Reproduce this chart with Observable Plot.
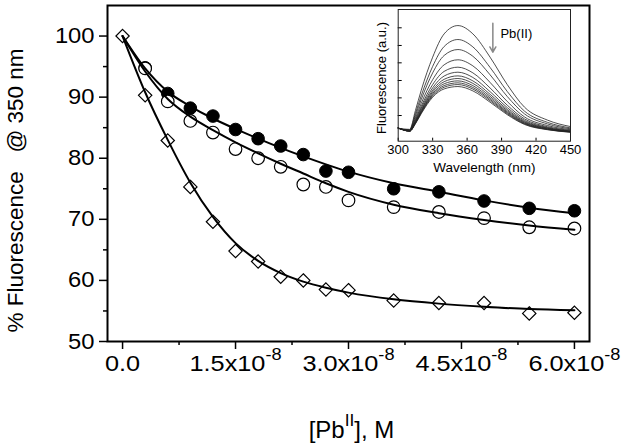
<!DOCTYPE html>
<html><head><meta charset="utf-8">
<script src="https://cdn.jsdelivr.net/npm/d3@7"></script>
<script src="https://cdn.jsdelivr.net/npm/@observablehq/plot@0.6"></script>
<style>
html,body{margin:0;padding:0;background:#fff;}
#wrap{position:relative;width:624px;height:447px;overflow:hidden;}
#inset{position:absolute;left:350px;top:0px;}
</style></head><body><div id="wrap"><div id="main"></div><div id="inset"></div></div>
<script>
// ---- main chart data ----
const concAll = [0, 0.3e-8, 0.6e-8, 0.9e-8, 1.2e-8, 1.5e-8, 1.8e-8, 2.1e-8, 2.4e-8, 2.7e-8, 3.0e-8, 3.6e-8, 4.2e-8, 4.8e-8, 5.4e-8, 6.0e-8];
const concCircles = [0.3e-8, 0.6e-8, 0.9e-8, 1.2e-8, 1.5e-8, 1.8e-8, 2.1e-8, 2.4e-8, 2.7e-8, 3.0e-8, 3.6e-8, 4.2e-8, 4.8e-8, 5.4e-8, 6.0e-8];
const filledPct = [94.8, 90.6, 88.2, 86.9, 84.7, 83.2, 82.0, 80.6, 77.9, 77.7, 75.0, 74.5, 73.0, 71.8, 71.4];
const openPct = [94.7, 89.3, 86.1, 84.2, 81.5, 80.0, 78.6, 75.7, 75.3, 73.1, 72.0, 71.2, 70.2, 68.7, 68.5];
const diamondPct = [100, 90.3, 82.9, 75.3, 69.6, 64.8, 63.1, 60.6, 60.0, 58.5, 58.4, 56.7, 56.3, 56.3, 54.6, 54.7];
const fitFilled = [100, 94.7, 90.9, 88.5, 86.5, 84.8, 83.2, 81.7, 80.3, 79.0, 77.8, 75.9, 74.5, 73.1, 71.9, 71.0];
const fitOpen = [100, 94.2, 89.7, 86.8, 84.6, 82.6, 80.8, 79.1, 77.5, 75.9, 74.5, 72.4, 71.0, 69.9, 69.0, 68.3];
const fitDiamond = [100, 90.8, 83.0, 76.0, 70.4, 66.1, 63.2, 61.2, 59.8, 58.8, 58.0, 56.9, 56.2, 55.7, 55.3, 55.1];
const xTicks = [0, 1.5e-8, 3.0e-8, 4.5e-8, 6.0e-8];
const xTickLabels = ["0.0", "1.5x10^{-8}", "3.0x10^{-8}", "4.5x10^{-8}", "6.0x10^{-8}"];
const xMinor = [0.75e-8, 2.25e-8, 3.75e-8, 5.25e-8];
const yTicks = [50, 60, 70, 80, 90, 100];
const yMinor = [55, 65, 75, 85, 95];
const xTitle = "[Pb^{II}], M";
const yTitle = "% Fluorescence\u00a0\u00a0 @ 350 nm";

// ---- inset data ----
const wavelengths = [300, 310, 315, 320, 330, 340, 352, 365, 380, 395, 410, 430, 450];
const spec01 = [9.6, 9.0, 23.3, 38.5, 63.8, 81.5, 87.8, 81.5, 63.8, 42.9, 25.8, 16.0, 11.1];
const spec02 = [9.7, 8.7, 21.0, 34.4, 56.8, 71.9, 77.2, 71.6, 56.0, 37.7, 22.8, 14.3, 10.1];
const spec03 = [9.8, 8.4, 19.3, 31.5, 51.9, 65.1, 69.6, 64.5, 50.4, 33.9, 20.7, 13.1, 9.4];
const spec04 = [9.9, 8.2, 17.6, 28.6, 46.7, 58.0, 61.8, 57.2, 44.6, 30.1, 18.4, 11.9, 8.7];
const spec05 = [9.9, 8.0, 16.4, 26.4, 43.0, 53.0, 56.2, 51.9, 40.4, 27.3, 16.9, 11.0, 8.2];
const spec06 = [10.0, 7.9, 15.6, 25.0, 40.5, 49.5, 52.4, 48.4, 37.6, 25.5, 15.8, 10.4, 7.8];
const spec07 = [10.0, 7.8, 15.0, 23.9, 38.7, 47.0, 49.6, 45.8, 35.6, 24.1, 15.0, 10.0, 7.6];
const spec08 = [10.0, 7.8, 14.5, 23.1, 37.4, 45.2, 47.6, 43.9, 34.1, 23.1, 14.4, 9.7, 7.4];
const spec09 = [10.0, 7.7, 14.1, 22.4, 36.2, 43.6, 45.8, 42.2, 32.8, 22.2, 13.9, 9.4, 7.2];
const spec10 = [10.1, 7.7, 13.8, 21.9, 35.2, 42.2, 44.3, 40.8, 31.7, 21.5, 13.5, 9.1, 7.1];
const spec11 = [10.1, 7.6, 13.5, 21.4, 34.4, 41.0, 43.0, 39.6, 30.7, 20.8, 13.1, 8.9, 6.9];
const spec12 = [10.1, 7.6, 13.2, 20.8, 33.4, 39.7, 41.5, 38.2, 29.6, 20.1, 12.7, 8.7, 6.8];
const insetXTicks = [300, 330, 360, 390, 420, 450];
const insetYTicks = [19.5, 32.9, 46.1, 59.5, 72.7, 86.1];
const pbLabel = [{wl: 389, v: 81.8, text: "Pb(II)"}];
const pbArrow = [{wl: 382.4, from: 89.6, to: 67.6}];

const FONT = "'Liberation Sans', Arial, Helvetica, sans-serif";

const filledRows = concCircles.map((c, i) => ({c, v: filledPct[i]}));
const openRows = concCircles.map((c, i) => ({c, v: openPct[i]}));
const diamondRows = concAll.map((c, i) => ({c, v: diamondPct[i]}));
const fitRows = [
  ...concAll.map((c, i) => ({c, v: fitFilled[i], s: "filled"})),
  ...concAll.map((c, i) => ({c, v: fitOpen[i], s: "open"})),
  ...concAll.map((c, i) => ({c, v: fitDiamond[i], s: "diamond"}))
];
const xLabelOf = d => xTickLabels[xTicks.findIndex(t => Math.abs(t - d) < 1e-12)];

const main = Plot.plot({
  width: 624, height: 447,
  marginLeft: 107, marginRight: 35, marginTop: 5, marginBottom: 106,
  style: {fontFamily: FONT, fontSize: "22px", background: "white", color: "black", overflow: "visible"},
  x: {domain: [-0.2e-8, 6.2e-8]},
  y: {domain: [50, 105]},
  marks: [
    Plot.axisY({ticks: yMinor, tickSize: 4, tickFormat: () => "", label: null, strokeWidth: 1.5}),
    Plot.axisY({ticks: yTicks, tickSize: 8, tickPadding: 5, label: null, strokeWidth: 1.5, fontSize: 22}),
    Plot.axisX({ticks: xMinor, tickSize: 4, tickFormat: () => "", label: null, strokeWidth: 1.5}),
    Plot.axisX({ticks: xTicks, tickSize: 8, tickPadding: 6, tickFormat: xLabelOf, label: null, strokeWidth: 1.5, fontSize: 22}),
    Plot.dot(filledRows, {x: "c", y: "v", r: 6.3, fill: "black", stroke: "black", strokeWidth: 1}),
    Plot.dot(openRows, {x: "c", y: "v", r: 6.3, fill: "white", stroke: "black", strokeWidth: 1.2}),
    Plot.dot(diamondRows, {x: "c", y: "v", r: 6, symbol: "diamond2", fill: "white", stroke: "black", strokeWidth: 1.2}),
    Plot.line(fitRows, {x: "c", y: "v", z: "s", stroke: "black", strokeWidth: 2, curve: "monotone-x"}),
    Plot.frame({stroke: "black", strokeWidth: 2}),
    Plot.text([yTitle], {text: d => d, frameAnchor: "left", textAnchor: "middle", rotate: -90, dx: -92, dy: 17, fontSize: 22.5}),
    Plot.text([xTitle], {text: d => d, frameAnchor: "bottom", textAnchor: "middle", lineAnchor: "bottom", dx: 3, dy: 96, fontSize: 24})
  ]
});

const specs = [spec01, spec02, spec03, spec04, spec05, spec06, spec07, spec08, spec09, spec10, spec11, spec12];
const specRows = specs.flatMap((s, k) => wavelengths.map((w, j) => ({w, v: s[j], k})));

const inset = Plot.plot({
  width: 230, height: 185,
  marginLeft: 47.7, marginRight: 10, marginTop: 9, marginBottom: 44.3,
  style: {fontFamily: FONT, fontSize: "13px", background: "none", color: "black", overflow: "visible"},
  x: {domain: [300, 450]},
  y: {domain: [0, 100]},
  marks: [
    Plot.line(specRows, {x: "w", y: "v", z: "k", stroke: "#222", strokeWidth: 0.8, curve: "monotone-x"}),
    Plot.axisX({ticks: insetXTicks, tickSize: 0, tickPadding: 4, label: null, fontSize: 13}),
    Plot.axisX({ticks: insetXTicks, tickSize: -3, tickFormat: () => "", label: null}),
    Plot.axisY({ticks: insetYTicks, tickSize: -4, tickFormat: () => "", label: null}),
    Plot.frame({stroke: "#222", strokeWidth: 1}),
    Plot.arrow(pbArrow, {x1: "wl", x2: "wl", y1: "from", y2: "to", stroke: "#888", strokeWidth: 1.5, headLength: 6}),
    Plot.text(pbLabel, {x: "wl", y: "v", text: "text", textAnchor: "start", fontSize: 13}),
    Plot.text(["Fluorescence (a.u.)"], {text: d => d, frameAnchor: "left", textAnchor: "middle", rotate: -90, dx: -16, dy: 2.6, fontSize: 13}),
    Plot.text(["Wavelength (nm)"], {text: d => d, frameAnchor: "bottom", textAnchor: "middle", lineAnchor: "bottom", dy: 31, fontSize: 13.5})
  ]
});

document.getElementById("main").appendChild(main);
document.getElementById("inset").appendChild(inset);

// superscript markup  ^{...}
const NS = "http://www.w3.org/2000/svg";
main.querySelectorAll("text").forEach(t => {
  const s = t.textContent;
  if (!s.includes("^{")) return;
  const fs = parseFloat(getComputedStyle(t).fontSize) || 22;
  const parts = s.split(/(\^\{[^}]*\})/).filter(p => p.length);
  while (t.firstChild) t.removeChild(t.firstChild);
  let raised = false;
  const shift = fs * 0.5;
  parts.forEach(p => {
    const sp = document.createElementNS(NS, "tspan");
    if (p.startsWith("^{")) {
      sp.textContent = p.slice(2, -1);
      sp.setAttribute("dy", -shift);
      sp.setAttribute("font-size", fs * 0.72);
      raised = true;
    } else {
      sp.textContent = p;
      if (raised) { sp.setAttribute("dy", shift); raised = false; }
    }
    t.appendChild(sp);
  });
});
// the reference's lettering is slightly wide: stretch tick labels horizontally
function widen(sel, k) {
  main.querySelectorAll(sel).forEach(t => {
    const tr = t.getAttribute("transform") || "";
    t.setAttribute("transform", tr + ` scale(${k},1)`);
  });
}
widen('g[aria-label="x-axis tick label"] text', 1.15);
widen('g[aria-label="y-axis tick label"] text', 1.08);
</script></body></html>
